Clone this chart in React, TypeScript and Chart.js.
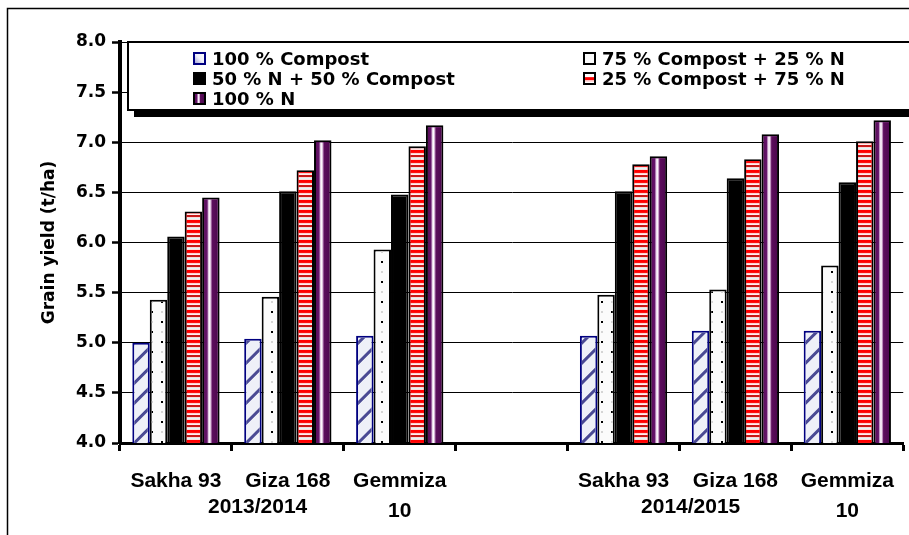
import React, { useEffect, useRef } from "react";
import { Chart, registerables } from "chart.js";

Chart.register(...registerables);

// ---------- data ----------
const categories: (string | string[])[] = [
  ["Sakha 93"],
  ["Giza 168"],
  ["Gemmiza", "10"],
  [""],
  ["Sakha 93"],
  ["Giza 168"],
  ["Gemmiza", "10"],
];
const seasons = ["2013/2014", "2014/2015"];
const seriesNames = [
  "100 % Compost",
  "75 % Compost + 25 % N",
  "50 % N + 50 % Compost",
  "25 % Compost + 75 % N",
  "100 % N",
];
const compost100 = [5.0, 5.04, 5.07, null, 5.07, 5.12, 5.12];
const compost75n25 = [5.43, 5.46, 5.93, null, 5.48, 5.53, 5.77];
const n50compost50 = [6.06, 6.51, 6.48, null, 6.51, 6.64, 6.6];
const compost25n75 = [6.31, 6.72, 6.96, null, 6.78, 6.83, 7.01];
const n100 = [6.45, 7.02, 7.17, null, 6.86, 7.08, 7.22];
const yMin = 4.0;
const yMax = 8.0;
const yStep = 0.5;
const yTitle = "Grain yield (t/ha)";

// ---------- styles ----------
const seriesStyle = ["hatch", "dots", "solid", "stripes", "purple"];
const seriesFill = ["#eef0f8", "#fbfbfb", "#000000", "#ff0000", "#5c0e5c"];
const seriesBorder = ["#000080", "#000000", "#000000", "#000000", "#000000"];
const stripeColors = [
  "#ff0000", "#ff0000", "#ff1010", "#ffd0d0", "#ffeeee",
  "#c81818", "#c81818", "#ffd6d6", "#dcf8f8", "#ffdcdc",
];
// fractional category positions where the season labels sit
const seasonAt = [0.73, 4.6];

function purpleGradient(ctx: CanvasRenderingContext2D, l: number, r: number) {
  const g = ctx.createLinearGradient(l, 0, r, 0);
  g.addColorStop(0, "#5c0e5c");
  g.addColorStop(0.22, "#64146a");
  g.addColorStop(0.33, "#e8d0e8");
  g.addColorStop(0.42, "#ffffff");
  g.addColorStop(0.5, "#d0a8d0");
  g.addColorStop(0.6, "#5c0e5c");
  g.addColorStop(1, "#4e0850");
  return g;
}

function drawFill(
  ctx: CanvasRenderingContext2D,
  style: string,
  l: number,
  t: number,
  r: number,
  b: number,
  small = false
) {
  if (r <= l || b <= t) return;
  ctx.save();
  ctx.beginPath();
  ctx.rect(l, t, r - l, b - t);
  ctx.clip();
  if (style === "hatch") {
    if (small) {
      const g = ctx.createLinearGradient(r, t, l, b);
      g.addColorStop(0, "#ffffff");
      g.addColorStop(0.5, "#f0f0fa");
      g.addColorStop(1, "#a8a8d8");
      ctx.fillStyle = g;
      ctx.fillRect(l, t, r - l, b - t);
    } else {
      ctx.strokeStyle = "#4a4a94";
      ctx.lineWidth = 3;
      const w = r - l;
      ctx.beginPath();
      for (let k = b + 40; k > t - 40; k -= 20) {
        ctx.moveTo(l - 10, k + 10);
        ctx.lineTo(r + 10, k - w - 10);
      }
      ctx.stroke();
    }
  } else if (style === "dots") {
    if (!small) {
      const y0 = Math.floor(t / 10) * 10;
      const x0 = Math.floor(l / 10) * 10;
      for (let yy = y0; yy < b; yy += 10) {
        for (let xx = x0; xx < r; xx += 10) {
          const even = (Math.round(xx / 10) + Math.round(yy / 10)) % 2 === 0;
          ctx.fillStyle = even ? "#000000" : "#d4d4d4";
          ctx.fillRect(xx + 1, yy + 1, 2, 2);
        }
      }
    }
  } else if (style === "stripes") {
    if (small) {
      ctx.fillStyle = "#ffffff";
      ctx.fillRect(l, t, r - l, b - t);
      ctx.fillStyle = "#ff0000";
      ctx.fillRect(l, t + (b - t) * 0.35, r - l, (b - t) * 0.35);
      ctx.fillStyle = "#ffc8c8";
      ctx.fillRect(l, t + (b - t) * 0.7, r - l, (b - t) * 0.15);
    } else {
      for (let yy = Math.floor(t); yy < b; yy++) {
        ctx.fillStyle = stripeColors[((yy % 10) + 10) % 10];
        ctx.fillRect(l, yy, r - l, 1);
      }
    }
  } else if (style === "purple") {
    ctx.fillStyle = purpleGradient(ctx, l, r);
    ctx.fillRect(l, t, r - l, b - t);
  }
  ctx.restore();
}

const patternPlugin = {
  id: "patterns",
  afterDatasetsDraw(chart: any) {
    const ctx: CanvasRenderingContext2D = chart.ctx;
    const area = chart.chartArea;
    chart.data.datasets.forEach((ds: any, i: number) => {
      const meta = chart.getDatasetMeta(i);
      const style = seriesStyle[i];
      if (style === "solid") return;
      meta.data.forEach((bar: any, j: number) => {
        if (ds.data[j] == null) return;
        const { x, y, base, width } = bar.getProps(["x", "y", "base", "width"], true);
        if (!isFinite(y) || !isFinite(x)) return;
        const bw = ds.borderWidth;
        const bottom = Math.min(base, area.bottom);
        drawFill(ctx, style, x - width / 2 + bw, y + bw, x + width / 2 - bw, bottom);
      });
    });
  },
};

const legendPlugin = {
  id: "boxLegend",
  afterDraw(chart: any) {
    const ctx: CanvasRenderingContext2D = chart.ctx;
    const area = chart.chartArea;
    const bx = area.left + 8;
    const by = area.top;
    const bh = 68;
    ctx.save();
    ctx.fillStyle = "#000";
    ctx.fillRect(bx + 6, by + 6, 1000, bh + 1);
    ctx.fillStyle = "#fff";
    ctx.fillRect(bx, by, 1000, bh);
    ctx.strokeStyle = "#000";
    ctx.lineWidth = 2;
    ctx.strokeRect(bx, by, 1000, bh);
    ctx.font = 'bold 18px "DejaVu Sans"';
    ctx.textBaseline = "alphabetic";
    ctx.textAlign = "left";
    chart.data.datasets.forEach((ds: any, i: number) => {
      const col = i % 2;
      const row = Math.floor(i / 2);
      const mx = col === 0 ? bx + 65 : bx + 455;
      const cy = by + 16.5 + row * 20;
      const ms = 13;
      const mt = cy - ms / 2;
      ctx.fillStyle = seriesBorder[i];
      ctx.fillRect(mx, mt, ms, ms);
      ctx.fillStyle = seriesFill[i];
      ctx.fillRect(mx + 2, mt + 2, ms - 4, ms - 4);
      drawFill(ctx, seriesStyle[i], mx + 2, mt + 2, mx + ms - 2, mt + ms - 2, true);
      ctx.fillStyle = "#000";
      ctx.fillText(ds.label, mx + ms + 6, cy + 6.5);
    });
    ctx.restore();
  },
};

const seasonPlugin = {
  id: "seasons",
  afterDraw(chart: any) {
    const ctx: CanvasRenderingContext2D = chart.ctx;
    const xs = chart.scales.x;
    ctx.save();
    ctx.font = 'bold 21px "Liberation Sans"';
    ctx.fillStyle = "#000";
    ctx.textAlign = "center";
    ctx.textBaseline = "alphabetic";
    seasons.forEach((s, i) => {
      ctx.fillText(s, xs.getPixelForValue(seasonAt[i]), xs.bottom - 22);
    });
    ctx.restore();
  },
};

const framePlugin = {
  id: "frame",
  afterDraw(chart: any) {
    const ctx: CanvasRenderingContext2D = chart.ctx;
    ctx.save();
    ctx.strokeStyle = "#000";
    ctx.lineWidth = 1.5;
    ctx.strokeRect(7.5, 8.5, 1200, 1200);
    ctx.restore();
  },
};

export default function App() {
  const ref = useRef<HTMLCanvasElement>(null);
  useEffect(() => {
    if (!ref.current) return;
    const values = [compost100, compost75n25, n50compost50, compost25n75, n100];
    const chart = new Chart(ref.current, {
      type: "bar",
      data: {
        labels: categories,
        datasets: values.map((v, i) => ({
          label: seriesNames[i],
          data: v,
          backgroundColor: seriesFill[i],
          borderColor: seriesBorder[i],
          borderWidth: 2,
          categoryPercentage: 0.78,
          barPercentage: 1.0,
        })),
      },
      options: {
        animation: false,
        responsive: false,
        events: [],
        layout: { padding: { top: 42, left: 0, right: 0, bottom: 0 } },
        plugins: {
          legend: { display: false },
          tooltip: { enabled: false },
          title: { display: false },
        },
        scales: {
          x: {
            offset: true,
            grid: {
              display: true,
              drawOnChartArea: false,
              drawTicks: true,
              tickLength: 8,
              tickWidth: 3,
              tickColor: "#000",
              color: "#000",
              offset: true,
            },
            border: { display: true, color: "#000", width: 3 },
            ticks: {
              color: "#000",
              font: { family: "Liberation Sans", size: 21, weight: "bold", lineHeight: 1.43 },
              padding: 15,
              maxRotation: 0,
              autoSkip: false,
            },
            afterFit: (s: any) => {
              s.height = 92;
            },
          },
          y: {
            min: yMin,
            max: yMax,
            ticks: {
              stepSize: yStep,
              color: "#000",
              font: { family: "DejaVu Sans", size: 17, weight: "bold" },
              padding: 6,
              callback: (v: any) => Number(v).toFixed(1),
            },
            grid: {
              color: "#000",
              lineWidth: 1,
              drawTicks: true,
              tickLength: 8,
              tickWidth: 2.5,
              tickColor: "#000",
            },
            border: { display: true, color: "#000", width: 4 },
            title: {
              display: true,
              text: yTitle,
              color: "#000",
              font: { family: "DejaVu Sans", size: 17, weight: "bold" },
              padding: { top: 39, bottom: 0 },
            },
            afterFit: (s: any) => {
              s.width = 120;
            },
          },
        },
      } as any,
      plugins: [patternPlugin, legendPlugin, seasonPlugin, framePlugin],
    });
    return () => chart.destroy();
  }, []);
  return (
    <div style={{ position: "fixed", left: 0, top: 0, width: 909, height: 535, background: "#fff" }}>
      <canvas ref={ref} width={909} height={535} />
    </div>
  );
}
